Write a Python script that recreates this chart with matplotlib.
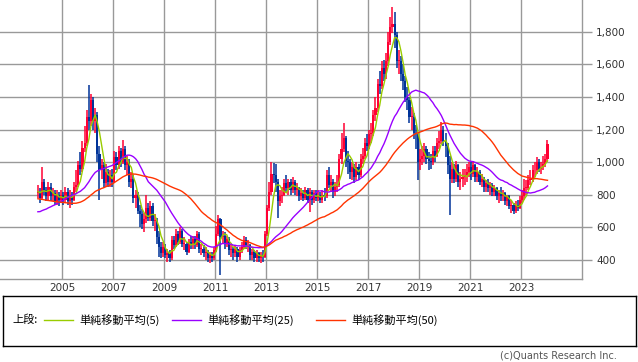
import numpy as np
import pandas as pd
import matplotlib
matplotlib.use('Agg')
import matplotlib.pyplot as plt
from matplotlib.ticker import FuncFormatter, FixedLocator

# monthly closes before the visible window (only used to warm up the moving averages)
pre_close = [900,
             950, 960, 940, 920, 900, 890, 880, 870, 880, 860, 850, 840,
             850, 860, 840, 830, 840, 820, 800, 790, 760, 780, 800, 780,
             760, 720, 700, 680, 660, 650, 640, 620, 600, 610, 600, 580,
             590, 600, 620, 650, 700, 740, 780, 800, 820, 830, 820, 810]

# monthly OHLC, Jan 2004 - Jan 2024 (open = previous close)
close = [820, 780, 880, 830, 790, 850, 790, 810, 760, 800, 770, 800,
         770, 820, 760, 800, 770, 850, 860, 980, 960, 1090, 1120, 1280,
         1250, 1380, 1250, 1290, 1050, 950, 980, 870, 940, 880, 920, 880,
         1030, 980, 1070, 1000, 1080, 980, 1000, 880, 900, 780, 800, 700,
         680, 620, 650, 720, 660, 730, 640, 640, 540, 480, 440, 480,
         430, 440, 410, 520, 490, 560, 510, 580, 500, 500, 450, 510,
         500, 530, 490, 560, 470, 470, 440, 450, 410, 430, 410, 460,
         560, 650, 540, 550, 500, 530, 460, 470, 440, 470, 420, 460,
         480, 520, 490, 490, 430, 450, 410, 440, 410, 430, 420, 560,
         720, 820, 930, 920, 880, 760, 790, 800, 870, 840, 880, 830,
         880, 830, 840, 790, 810, 780, 830, 770, 820, 770, 810, 780,
         800, 770, 800, 790, 920, 860, 880, 820, 850, 860, 1020, 1080,
         1150, 1010, 1000, 940, 970, 910, 970, 920, 1020, 1040, 1120, 1100,
         1170, 1180, 1290, 1330, 1480, 1470, 1580, 1540, 1620, 1740, 1830, 1850,
         1780, 1620, 1620, 1540, 1500, 1400, 1380, 1280, 1280, 1180, 1170, 1000,
         1020, 1040, 1080, 1020, 1010, 1000, 1070, 1040, 1120, 1130, 1200, 1130,
         1100, 980, 900, 960, 900, 980, 880, 900, 910, 920, 940, 970,
         930, 980, 910, 940, 880, 900, 850, 870, 840, 860, 820, 840,
         790, 810, 790, 810, 760, 790, 730, 740, 700, 740, 720, 770,
         790, 840, 840, 890, 900, 950, 950, 1000, 960, 970, 990, 1020,
         1110]

high = [860, 840, 970, 900, 850, 880, 870, 840, 830, 830, 820, 830,
        820, 850, 840, 830, 820, 880, 950, 1010, 1060, 1130, 1220, 1320,
        1475, 1420, 1400, 1330, 1310, 1100, 1020, 1000, 990, 960, 950, 960,
        1070, 1060, 1100, 1090, 1135, 1100, 1040, 1020, 940, 920, 830, 820,
        740, 710, 690, 800, 750, 760, 750, 680, 660, 580, 510, 510,
        500, 470, 460, 550, 550, 590, 580, 600, 590, 540, 510, 530,
        550, 550, 550, 580, 570, 500, 490, 480, 460, 450, 450, 480,
        610, 675, 660, 580, 570, 550, 540, 500, 480, 490, 480, 480,
        510, 550, 540, 520, 500, 470, 460, 460, 450, 450, 460, 580,
        740, 880, 1000, 995, 990, 900, 830, 850, 900, 920, 900, 900,
        910, 890, 870, 850, 840, 830, 850, 840, 840, 830, 830, 830,
        830, 820, 830, 840, 950, 970, 920, 900, 880, 920, 1050, 1180,
        1240, 1160, 1070, 1020, 1000, 990, 1000, 990, 1050, 1090, 1150, 1170,
        1200, 1240, 1320, 1400, 1510, 1560, 1620, 1630, 1670, 1800, 1890, 1955,
        1920, 1800, 1690, 1650, 1600, 1530, 1460, 1400, 1340, 1300, 1230, 1180,
        1080, 1100, 1120, 1100, 1060, 1050, 1100, 1100, 1150, 1190, 1245, 1220,
        1180, 1120, 1040, 1000, 990, 1010, 990, 940, 960, 960, 990, 1000,
        1000, 1010, 990, 970, 950, 930, 910, 890, 900, 880, 870, 860,
        850, 830, 850, 830, 820, 800, 800, 770, 750, 760, 770, 790,
        830, 900, 890, 920, 950, 980, 1000, 1030, 1020, 1000, 1040, 1050,
        1135]

low = [780, 750, 770, 800, 760, 770, 760, 760, 740, 740, 730, 750,
       740, 750, 740, 720, 740, 760, 820, 850, 920, 940, 1060, 1100,
       1200, 1220, 1200, 1180, 1000, 770, 900, 840, 850, 850, 850, 850,
       870, 950, 960, 970, 990, 950, 920, 850, 840, 750, 720, 680,
       600, 590, 570, 630, 640, 640, 610, 580, 500, 420, 410, 420,
       410, 390, 390, 400, 470, 480, 490, 500, 480, 460, 430, 440,
       470, 470, 470, 480, 440, 430, 420, 400, 390, 380, 390, 400,
       450, 550, 310, 500, 470, 480, 430, 420, 400, 420, 390, 400,
       440, 470, 470, 450, 400, 400, 390, 390, 390, 380, 390, 410,
       550, 700, 800, 870, 820, 660, 730, 750, 790, 810, 800, 800,
       810, 800, 790, 760, 770, 760, 770, 750, 695, 740, 750, 760,
       760, 750, 750, 760, 780, 840, 820, 780, 790, 820, 850, 990,
       1060, 970, 930, 900, 890, 870, 890, 890, 910, 990, 1020, 1070,
       1080, 1120, 1160, 1250, 1310, 1420, 1450, 1500, 1510, 1590, 1720, 1790,
       1700, 1580, 1540, 1500, 1440, 1370, 1320, 1240, 1200, 1140, 1080, 890,
       950, 980, 1000, 990, 950, 960, 980, 1000, 1030, 1080, 1110, 1100,
       1030, 930, 675, 870, 870, 880, 850, 830, 850, 860, 880, 910,
       890, 910, 880, 880, 860, 850, 820, 820, 820, 800, 790, 790,
       770, 750, 760, 760, 740, 730, 710, 690, 680, 690, 700, 710,
       750, 770, 800, 830, 860, 880, 910, 930, 940, 930, 950, 970,
       1000]

ma_windows = [5, 25, 50]
ma_colors = ['#99cc00', '#9900ff', '#ff3300']
legend_labels = ['単純移動平均(5)', '単純移動平均(25)', '単純移動平均(50)']
year_ticks = [2005, 2007, 2009, 2011, 2013, 2015, 2017, 2019, 2021, 2023]
price_ticks = [400, 600, 800, 1000, 1200, 1400, 1600, 1800]

W, H = 638, 362
fig = plt.figure(figsize=(W / 100, H / 100), dpi=100)

# main price panel, placed in pixel units
left, right, top, bottom = 0, 582.3, 0, 279.3
ax = fig.add_axes([left / W, 1 - bottom / H, (right - left) / W, (bottom - top) / H])

n = len(close)
t = 2004 + (np.arange(n) + 0.5) / 12
c = np.array(close, dtype=float)
o = np.r_[pre_close[-1], c[:-1]]
up = c >= o
col = np.where(up, '#ff0033', '#003399')

ax.vlines(t, low, high, colors=col, linewidth=1.1, zorder=2)
body_h = np.maximum(np.abs(c - o), 5)
ax.bar(t, body_h, bottom=np.minimum(o, c), width=1.0 / 12, color=col,
       linewidth=0, zorder=3)

s = pd.Series(pre_close + close, dtype=float)
k = len(pre_close)
for w, colr in zip(ma_windows, ma_colors):
    ma = s.rolling(w).mean().to_numpy()[k:]
    ax.plot(t, ma, color=colr, linewidth=1, zorder=4)

ax.set_xlim(2005 - (62.3 - left) / 25.48, 2005 + (right - 62.3) / 25.48)
ax.set_ylim(400 - (bottom - 260) * 6.135, 400 + (260 - top) * 6.135)

ax.xaxis.set_major_locator(FixedLocator(year_ticks))
ax.yaxis.set_major_locator(FixedLocator(price_ticks))
ax.yaxis.tick_right()
ax.yaxis.set_major_formatter(FuncFormatter(lambda v, p: f'{int(v):,}'))
ax.tick_params(axis='y', length=7, width=1, color='#999999', pad=3,
               labelsize=7.5, labelcolor='#333333')
ax.tick_params(axis='x', length=0, pad=3, labelsize=7.5, labelcolor='#333333')
ax.grid(True, color='#999999', linewidth=1)
ax.set_axisbelow(True)
for name, sp in ax.spines.items():
    sp.set_color('#999999')
    sp.set_linewidth(1)
ax.spines['left'].set_visible(False)
ax.spines['top'].set_visible(False)

# legend box drawn in pixel coordinates
lg = fig.add_axes([3 / W, 1 - 346 / H, 633 / W, 50 / H])
lg.set_xlim(3, 636)
lg.set_ylim(346, 296)
lg.set_xticks([])
lg.set_yticks([])
for sp in lg.spines.values():
    sp.set_color('black')
    sp.set_linewidth(1)
jp = ['Noto Sans CJK JP', 'DejaVu Sans']
ly = 320
lg.text(12, ly, '上段:', family=jp, fontsize=8, va='center', ha='left')
line_x = [(44, 73), (172, 201), (316, 345)]
for (x0, x1), colr, lab in zip(line_x, ma_colors, legend_labels):
    lg.plot([x0, x1], [ly, ly], color=colr, linewidth=1)
    lg.text(x1 + 6, ly, lab, family=jp, fontsize=8, va='center', ha='left')

fig.text(617 / W, 1 - 355 / H, '(c)Quants Research Inc.', ha='right',
         va='center', fontsize=7, color='#555555')

fig.savefig('out.png', dpi=100)
